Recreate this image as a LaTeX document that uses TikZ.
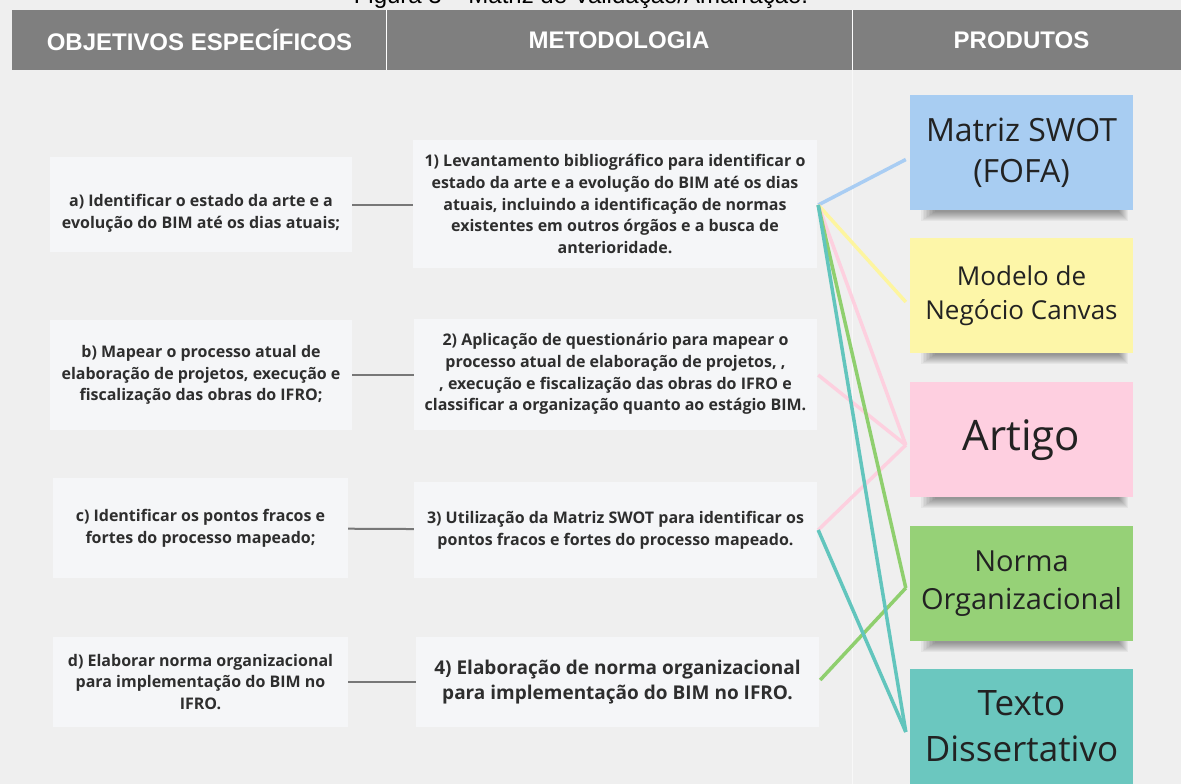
\documentclass[tikz,border=0pt]{standalone}
\usepackage{fontspec}
\setmainfont{Open Sans}
\newfontfamily\hdrfont{Liberation Sans}
\usetikzlibrary{calc}
\definecolor{bg}{HTML}{EFEFEF}
\definecolor{hdrgray}{HTML}{7F7F7F}
\definecolor{boxfill}{HTML}{F5F6F8}
\definecolor{txt}{HTML}{2E2E2E}
\definecolor{prodtxt}{HTML}{222222}
\definecolor{conngray}{HTML}{777777}
\definecolor{pblue}{HTML}{A8CDF2}
\definecolor{pyellow}{HTML}{FDF6A8}
\definecolor{ppink}{HTML}{FECFE0}
\definecolor{pgreen}{HTML}{96D177}
\definecolor{pteal}{HTML}{6BC7BF}
\definecolor{lblue}{HTML}{A9CDF3}
\definecolor{lyellow}{HTML}{FDF59F}
\definecolor{lpink}{HTML}{FDD0DF}
\definecolor{lgreen}{HTML}{8FCF6E}
\definecolor{lteal}{HTML}{62C5BD}
\tikzset{
  lbox/.style={fill=boxfill, inner sep=0pt, align=center, text=txt,
    font=\fontsize{16}{21.7}\selectfont\bfseries},
  ltext/.style={inner sep=0pt, align=center, text=txt,
    font=\fontsize{16}{21.7}\selectfont\bfseries},
  hdrtext/.style={text=white, font=\hdrfont\fontsize{24}{26}\selectfont\bfseries, inner sep=0pt},
  prod/.style={inner sep=0pt, minimum width=223pt, minimum height=115pt, align=center, text=prodtxt},
  conn/.style={draw=conngray, line width=2pt},
  cline/.style={line width=3.5pt},
}
\newcommand\mkshadow[1]{%
  \foreach \k in {1,...,10}{%
    \fill[black, opacity=0.045] ($(#1.south west)+(10+1.5*\k,-2)$) rectangle ($(#1.south east)+(-4-\k,12-\k)$);
  }%
}
\begin{document}
\begin{tikzpicture}[x=1pt,y=-1pt]
\useasboundingbox (0,0) rectangle (1181,784);
\clip (0,0) rectangle (1181,784);
\fill[bg] (0,0) rectangle (1181,784);
% caption (cut at top, as in the reference)
\node[anchor=base, inner sep=0pt, text=black, font=\hdrfont\fontsize{24}{26}\selectfont] (cap) at (581,4) {Figura 3 – Matriz de Validação/Amarração.};
% header
\fill[hdrgray] (12,10) rectangle (1181,70);
\draw[white, line width=1pt] (386,10) -- (386,70);
\draw[white, line width=1pt] (852,10) -- (852,70);
\draw[white, opacity=0.6, line width=0.6pt] (852,70) -- (852,784);
\node[hdrtext] (h1) at (199.5,40) {OBJETIVOS ESPECÍFICOS};
\node[hdrtext] (h2) at (619,40) {METODOLOGIA};
\node[hdrtext] (h3) at (1021.5,40) {PRODUTOS};
% left boxes
\node[lbox, minimum width=302pt, minimum height=95pt] (a) at (201,204.5) {};
\node[ltext] (ta) at (201,213) {a) Identificar o estado da arte e a\\evolução do BIM até os dias atuais;};
\node[lbox, minimum width=302pt, minimum height=110pt] (b) at (201,375) {b) Mapear o processo atual de\\elaboração de projetos, execução e\\fiscalização das obras do IFRO;};
\node[lbox, minimum width=295pt, minimum height=100pt] (c) at (200.5,528) {c) Identificar os pontos fracos e\\fortes do processo mapeado;};
\node[lbox, minimum width=295pt, minimum height=90pt] (d) at (200.5,682) {d) Elaborar norma organizacional\\para implementação do BIM no\\IFRO.};
% middle boxes
\node[lbox, minimum width=404pt, minimum height=128pt] (m1) at (615,204) {1) Levantamento bibliográfico para identificar o\\estado da arte e a evolução do BIM até os dias\\atuais, incluindo a identificação de normas\\existentes em outros órgãos e a busca de\\anterioridade.};
\node[lbox, minimum width=403pt, minimum height=111pt] (m2) at (615.5,374) {2) Aplicação de questionário para mapear o\\processo atual de elaboração de projetos, ,\\, execução e fiscalização das obras do IFRO e\\classificar a organização quanto ao estágio BIM.};
\node[lbox, minimum width=403pt, minimum height=96pt] (m3) at (615.5,530) {3) Utilização da Matriz SWOT para identificar os\\pontos fracos e fortes do processo mapeado.};
\node[lbox, minimum width=403pt, minimum height=90pt, font=\fontsize{19}{25}\selectfont\bfseries] (m4) at (617.5,682) {4) Elaboração de norma organizacional\\para implementação do BIM no IFRO.};
% gray connectors
\draw[conn] (a.east) -- (a.east -| m1.west);
\draw[conn] (b.east) -- (b.east -| m2.west);
\draw[conn] (c) -- (m3);
\draw[conn] (d) -- (m4);
% product shadows and boxes
\coordinate (q1) at (1021.5,152.5);
\coordinate (q2) at (1021.5,295.5);
\coordinate (q3) at (1021.5,439.5);
\coordinate (q4) at (1021.5,583.5);
\node[prod] (s1box) at (q1) {};
\node[prod] (s2box) at (q2) {};
\node[prod] (s3box) at (q3) {};
\node[prod] (s4box) at (q4) {};
\mkshadow{s1box}
\mkshadow{s2box}
\mkshadow{s3box}
\mkshadow{s4box}
\node[prod, fill=pblue, font=\fontsize{32}{41}\selectfont] (p1) at (q1) {Matriz SWOT\\(FOFA)};
\node[prod, fill=pyellow, font=\fontsize{26}{34}\selectfont] (p2) at (q2) {Modelo de\\Negócio Canvas};
\node[prod, fill=ppink] (p3) at (q3) {};
\node[inner sep=0pt, text=prodtxt, font=\fontsize{42}{48}\selectfont] (t3) at (1021.5,440) {Artigo};
\node[prod, fill=pgreen, font=\fontsize{29}{38}\selectfont] (p4) at (q4) {Norma\\Organizacional};
\node[prod, fill=pteal, font=\fontsize{35}{46}\selectfont] (p5) at (1021.5,726) {Texto\\Dissertativo};
% end coordinates
\coordinate (e1) at ($(p1.west)+(-4,7)$);
\coordinate (e2) at ($(p2.west)+(-4,6.5)$);
\coordinate (e3) at ($(p3.west)+(-4,5.5)$);
\coordinate (e4) at ($(p4.west)+(-4,4.5)$);
\coordinate (e5) at ($(p5.west)+(-4,6)$);
\coordinate (o1) at ($(m1.east)+(1,1)$);
\coordinate (o2) at ($(m2.east)+(1,1)$);
\coordinate (o3) at ($(m3.east)+(1,0)$);
\coordinate (o4) at ($(m4.east)+(1,-2)$);
% colored connectors
\draw[cline, lblue] (o1) -- (e1);
\draw[cline, lyellow] (o1) -- (e2);
\draw[cline, lpink] (o1) -- (e3);
\draw[cline, lpink] (o2) -- (e3);
\draw[cline, lpink] (o3) -- (e3);
\draw[cline, lgreen] (o1) -- (e4);
\draw[cline, lgreen] (o4) -- (e4);
\draw[cline, lteal] (o1) -- (e5);
\draw[cline, lteal] (o3) -- (e5);
\end{tikzpicture}
\end{document}
